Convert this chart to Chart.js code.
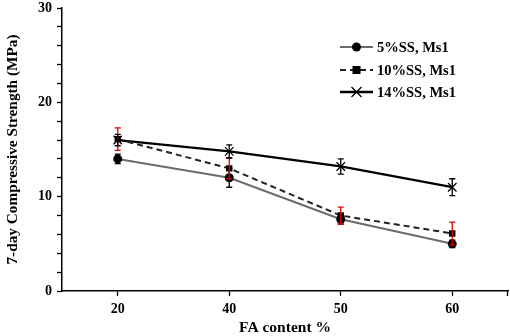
<!DOCTYPE html>
<html><head><meta charset="utf-8">
<script src="https://cdn.jsdelivr.net/npm/chart.js@4"></script>
<style>html,body{margin:0;padding:0;background:#fff}#wrap{width:510px;height:336px}</style>
</head><body><div id="wrap"><canvas id="c" width="510" height="336"></canvas></div>
<script>
const categories = ['20', '40', '50', '60'];
const ss5 = [14.0, 12.0, 7.6, 5.0];
const ss10 = [16.1, 13.0, 8.0, 6.1];
const ss14 = [16.0, 14.8, 13.2, 11.0];
const err5 = [0.5, 1.0, 0.5, 0.4];
const err10 = [1.2, 1.1, 0.9, 1.2];
const err14 = [0.6, 0.7, 0.8, 0.9];
const seriesNames = ['5%SS, Ms1', '10%SS, Ms1', '14%SS, Ms1'];
const errs = [err5, err10, err14];
const errColors = ['#000', '#e00000', '#000'];
const FONT = "'Liberation Serif', 'Times New Roman', serif";

const errorBars = {
  id: 'errorBars',
  afterDatasetsDraw(chart) {
    const ctx = chart.ctx, ys = chart.scales.y;
    chart.data.datasets.forEach((ds, di) => {
      const meta = chart.getDatasetMeta(di);
      ctx.save();
      ctx.strokeStyle = errColors[di];
      ctx.lineWidth = 1.3;
      meta.data.forEach((pt, i) => {
        const v = ds.data[i], e = errs[di][i];
        const yt = ys.getPixelForValue(v + e), yb = ys.getPixelForValue(v - e);
        ctx.beginPath();
        ctx.moveTo(pt.x, yt); ctx.lineTo(pt.x, yb);
        ctx.moveTo(pt.x - 3, yt); ctx.lineTo(pt.x + 3, yt);
        ctx.moveTo(pt.x - 3, yb); ctx.lineTo(pt.x + 3, yb);
        ctx.stroke();
      });
      ctx.restore();
    });
  }
};

const customLegend = {
  id: 'customLegend',
  afterDraw(chart) {
    const ctx = chart.ctx;
    const x0 = 340, x1 = 373, textX = 377;
    const rows = [47, 70, 92];
    chart.data.datasets.forEach((ds, di) => {
      const y = rows[di];
      ctx.save();
      ctx.strokeStyle = ds.borderColor;
      ctx.lineWidth = ds.borderWidth;
      ctx.setLineDash(ds.borderDash || []);
      ctx.beginPath(); ctx.moveTo(x0, y); ctx.lineTo(x1, y); ctx.stroke();
      ctx.setLineDash([]);
      const cx = (x0 + x1) / 2;
      ctx.fillStyle = ds.pointBackgroundColor;
      ctx.strokeStyle = ds.pointBorderColor;
      if (ds.pointStyle === 'circle') {
        ctx.beginPath(); ctx.arc(cx, y, 4.5, 0, Math.PI * 2); ctx.fill();
      } else if (ds.pointStyle === 'rect') {
        ctx.fillRect(cx - 4, y - 4, 8, 8);
      } else {
        ctx.lineWidth = 1.3;
        ctx.beginPath();
        ctx.moveTo(cx - 5, y - 5); ctx.lineTo(cx + 5, y + 5);
        ctx.moveTo(cx - 5, y + 5); ctx.lineTo(cx + 5, y - 5);
        ctx.stroke();
      }
      ctx.fillStyle = '#000';
      ctx.font = 'bold 14.5px ' + FONT;
      ctx.textBaseline = 'middle';
      ctx.fillText(seriesNames[di], textX, y + 1);
      ctx.restore();
    });
    const a = chart.chartArea;
    ctx.save();
    ctx.strokeStyle = '#000'; ctx.lineWidth = 1.3;
    ctx.beginPath(); ctx.moveTo(a.right - 0.5, a.bottom); ctx.lineTo(a.right - 0.5, a.bottom + 5); ctx.stroke();
    ctx.restore();
  }
};

new Chart(document.getElementById('c'), {
  type: 'line',
  data: {
    labels: categories,
    datasets: [
      { label: seriesNames[0], data: ss5, borderColor: '#6b6b6b', borderWidth: 2,
        pointStyle: 'circle', pointRadius: 4.5, pointBackgroundColor: '#000', pointBorderColor: '#000', pointBorderWidth: 0 },
      { label: seriesNames[1], data: ss10, borderColor: '#222', borderWidth: 2, borderDash: [6, 4],
        pointStyle: 'rect', pointRadius: 4.5, pointBackgroundColor: '#000', pointBorderColor: '#000', pointBorderWidth: 0 },
      { label: seriesNames[2], data: ss14, borderColor: '#000', borderWidth: 2.3,
        pointStyle: 'crossRot', pointRadius: 6, pointBackgroundColor: '#000', pointBorderColor: '#000', pointBorderWidth: 1.3 }
    ]
  },
  options: {
    responsive: false,
    animation: false,
    layout: { autoPadding: false, padding: { top: 8, right: 2, left: 0, bottom: 0 } },
    plugins: { legend: { display: false }, tooltip: { enabled: false } },
    scales: {
      x: {
        type: 'category',
        offset: true,
        afterFit(s) { s.height = 45; s.paddingRight = 0; s.paddingLeft = 0; },
        grid: { drawOnChartArea: false, offset: false, drawTicks: true, tickLength: 5, tickColor: '#000', tickWidth: 1.3 },
        border: { color: '#000', width: 1.5 },
        ticks: { color: '#000', font: { family: FONT, size: 14, weight: 'bold' }, padding: 5, maxRotation: 0 },
        title: { display: true, text: 'FA content %', color: '#000', font: { family: FONT, size: 15.5, weight: 'bold' }, padding: { top: 2, bottom: -1 } }
      },
      y: {
        min: 0, max: 30,
        afterFit(s) { s.width = 62; s.paddingTop = 0; s.paddingBottom = 0; },
        grid: { drawOnChartArea: false, drawTicks: true, tickLength: 5, tickColor: '#000', tickWidth: 1.3 },
        border: { color: '#000', width: 1.5 },
        ticks: { stepSize: 2, autoSkip: false, color: '#000', padding: 5,
          font: { family: FONT, size: 14, weight: 'bold' },
          callback: v => (v % 10 === 0 ? v : '') },
        title: { display: true, text: '7-day Compressive Strength (MPa)', color: '#000', font: { family: FONT, size: 15.3, weight: 'bold' }, padding: { top: 4, bottom: 2 } }
      }
    }
  },
  plugins: [errorBars, customLegend]
});
</script></body></html>
